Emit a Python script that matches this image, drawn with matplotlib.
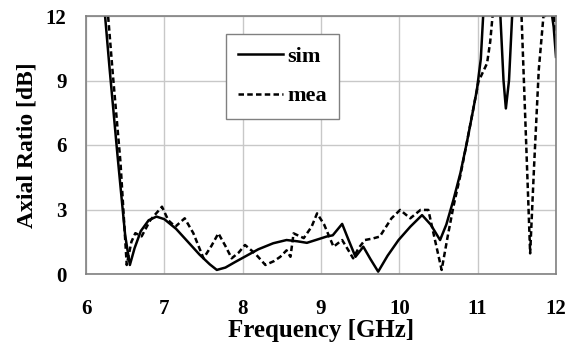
import matplotlib
matplotlib.use("Agg")
import matplotlib.pyplot as plt
import numpy as np

# Simulated axial ratio
sim_f = [6.22, 6.30, 6.40, 6.50, 6.56, 6.62, 6.70, 6.80, 6.90, 7.00, 7.15, 7.30,
         7.45, 7.58, 7.67, 7.78, 7.90, 8.05, 8.20, 8.39, 8.56, 8.70, 8.82, 8.95,
         9.07, 9.15, 9.27, 9.35, 9.44, 9.54, 9.63, 9.73, 9.85, 9.99, 10.14, 10.29,
         10.40, 10.52, 10.60, 10.69, 10.78, 10.86, 10.93, 10.99, 11.04, 11.07, 11.12,
         11.25, 11.29, 11.33, 11.36, 11.40, 11.44, 11.50, 11.80, 11.86, 11.93, 11.97, 12.0]
sim_ar = [13.0, 9.6, 5.6, 1.8, 0.42, 1.2, 2.0, 2.5, 2.67, 2.55, 2.1, 1.5,
          0.9, 0.45, 0.19, 0.3, 0.55, 0.85, 1.15, 1.43, 1.58, 1.52, 1.45, 1.6,
          1.74, 1.8, 2.33, 1.6, 0.8, 1.27, 0.7, 0.11, 0.85, 1.58, 2.2, 2.74,
          2.3, 1.58, 2.3, 3.44, 4.7, 6.08, 7.4, 8.56, 10.0, 12.0, 13.5,
          14.0, 12.0, 9.0, 7.7, 9.0, 12.0, 14.0, 14.0, 12.0, 12.5, 11.5, 10.1]

# Measured axial ratio
mea_f = [6.26, 6.34, 6.44, 6.52, 6.58, 6.63, 6.71, 6.82, 6.97, 7.05, 7.14, 7.26,
         7.37, 7.50, 7.60, 7.69, 7.78, 7.86, 7.95, 8.03, 8.16, 8.29, 8.40, 8.48,
         8.56, 8.61, 8.65, 8.78, 8.88, 8.95, 9.04, 9.16, 9.27, 9.35, 9.41, 9.48,
         9.56, 9.66, 9.75, 9.90, 10.01, 10.14, 10.27, 10.37, 10.46, 10.54, 10.62,
         10.69, 10.78, 10.86, 10.94, 11.01, 11.12, 11.16, 11.19, 11.23, 11.52,
         11.56, 11.62, 11.67, 11.72, 11.78, 11.84, 11.90, 11.96, 12.0]
mea_ar = [13.0, 9.4, 5.2, 0.42, 1.5, 1.9, 1.75, 2.5, 3.13, 2.5, 2.2, 2.59,
          1.9, 0.73, 1.3, 1.89, 1.3, 0.73, 1.0, 1.35, 0.95, 0.42, 0.6, 0.8,
          1.1, 0.8, 1.89, 1.67, 2.2, 2.82, 2.3, 1.27, 1.58, 1.1, 0.73, 1.2,
          1.58, 1.65, 1.74, 2.59, 2.98, 2.59, 2.98, 2.98, 1.5, 0.19, 1.8,
          3.13, 4.6, 6.08, 7.6, 8.95, 9.8, 10.8, 12.0, 14.0, 14.0,
          12.0, 6.0, 0.96, 5.0, 9.5, 12.0, 14.0, 13.0, 10.6]

x_ticks = [6, 7, 8, 9, 10, 11, 12]
y_ticks = [0, 3, 6, 9, 12]

plt.rcParams['font.family'] = ['Liberation Serif', 'DejaVu Serif']
plt.rcParams['font.weight'] = 'bold'

fig = plt.figure(figsize=(5.77, 3.47), dpi=100)
ax = fig.add_axes([86/577, 1-274/347, 470/577, 258/347])

ax.plot(sim_f, sim_ar, color='black', lw=1.8, label='sim')
ax.plot(mea_f, mea_ar, color='black', lw=1.8, ls=(0, (2.2, 1.3)), label='mea')

ax.set_xlim(6, 12)
ax.set_ylim(0, 12)
ax.set_xticks(x_ticks)
ax.set_yticks(y_ticks)
ax.grid(True, color='#c8c8c8', lw=1.0)
ax.set_axisbelow(True)
for s in ax.spines.values():
    s.set_color('#808080')
    s.set_linewidth(1.2)
ax.tick_params(length=0, labelsize=15)
ax.tick_params(axis='y', pad=14)
ax.tick_params(axis='x', pad=18)
for lbl in ax.get_xticklabels() + ax.get_yticklabels():
    lbl.set_fontweight('bold')

ax.set_xlabel('Frequency [GHz]', fontsize=18, fontweight='bold', labelpad=0)
ax.set_ylabel('Axial Ratio [dB]', fontsize=17, fontweight='bold', labelpad=6)

leg = ax.legend(loc='upper left', bbox_to_anchor=(0.298, 0.93),
                prop={'weight': 'bold', 'size': 16}, handlelength=2.0,
                fancybox=False, framealpha=1, edgecolor='#808080',
                borderpad=0.55, labelspacing=0.85, handletextpad=0.2,
                borderaxespad=0)
leg.get_frame().set_linewidth(1.0)

fig.savefig('out.png', dpi=100)
